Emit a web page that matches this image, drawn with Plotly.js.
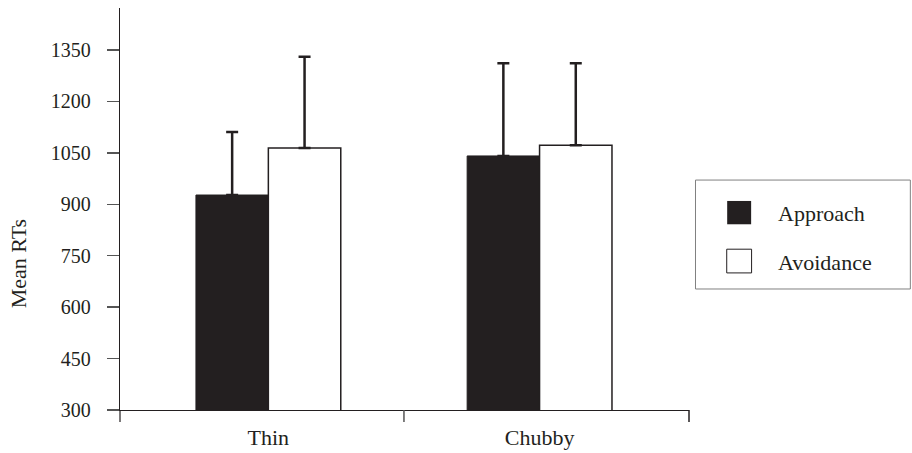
<!DOCTYPE html>
<html>
<head>
<meta charset="utf-8">
<script src="https://cdn.plot.ly/plotly-3.0.1.min.js"></script>
<style>html,body{margin:0;padding:0;background:#fff;}#chart{width:912px;height:453px;}</style>
</head>
<body>
<div id="chart"></div>
<script>
// ---- data ----
const categories = ["Thin", "Chubby"];
const seriesNames = ["Approach", "Avoidance"];
const approachMeans = [927, 1041];
const approachErr = [184, 270];
const avoidanceMeans = [1064, 1072];
const avoidanceErr = [266, 239];
const yTickVals = [300, 450, 600, 750, 900, 1050, 1200, 1350];
const yTickText = ["300", "450", "600", "750", "900", "1050", "1200", "1350"];

const ink = "#231f20";
const serif = "Liberation Serif";

const traces = [
  {
    type: "bar", name: seriesNames[0], x: categories, y: approachMeans,
    marker: {color: ink, line: {color: ink, width: 1}},
    error_y: {type: "data", symmetric: false, array: approachErr, arrayminus: [0, 0],
              color: ink, thickness: 2.5, width: 6},
    showlegend: false
  },
  {
    type: "bar", name: seriesNames[1], x: categories, y: avoidanceMeans,
    marker: {color: "#ffffff", line: {color: ink, width: 1.5}},
    error_y: {type: "data", symmetric: false, array: avoidanceErr, arrayminus: [0, 0],
              color: ink, thickness: 2.5, width: 6},
    showlegend: false
  }
];

const tickLen = 12 / 402;
const layout = {
  width: 912, height: 453,
  margin: {l: 120, r: 222.5, t: 8, b: 43},
  paper_bgcolor: "#ffffff", plot_bgcolor: "#ffffff",
  font: {family: serif, color: ink, size: 22},
  barmode: "group", bargap: 0.466, bargroupgap: 0,
  xaxis: {
    type: "category", range: [-0.547, 1.551],
    showline: true, linecolor: ink, linewidth: 1.2,
    ticks: "", showgrid: false, zeroline: false,
    tickfont: {family: serif, size: 22, color: ink},
    ticklabelstandoff: 7
  },
  yaxis: {
    range: [300, 1472.5], tickvals: yTickVals, ticktext: yTickText,
    showline: true, linecolor: ink, linewidth: 1.2,
    ticks: "outside", ticklen: 12, tickwidth: 1.5, tickcolor: "#555555",
    showgrid: false, zeroline: false,
    tickfont: {family: serif, size: 20, color: ink},
    ticklabelstandoff: 12
  },
  shapes: [
    {type: "line", xref: "paper", yref: "paper", x0: 0, x1: 0, y0: 0, y1: -tickLen,
     line: {color: ink, width: 1.2}},
    {type: "line", xref: "x", yref: "paper", x0: 0.5, x1: 0.5, y0: 0, y1: -tickLen,
     line: {color: "#555555", width: 1.5}},
    {type: "line", xref: "paper", yref: "paper", x0: 1, x1: 1, y0: 0, y1: -tickLen,
     line: {color: ink, width: 1.5}},
    {type: "rect", xref: "paper", yref: "paper", x0: 1.0114, x1: 1.389, y0: 0.301, y1: 0.572,
     line: {color: "#808080", width: 1}, fillcolor: "rgba(0,0,0,0)"},
    {type: "rect", xref: "paper", yref: "paper", x0: 1.0671, x1: 1.1092, y0: 0.462, y1: 0.520,
     line: {color: ink, width: 0}, fillcolor: ink},
    {type: "rect", xref: "paper", yref: "paper", x0: 1.0663, x1: 1.1100, y0: 0.341, y1: 0.400,
     line: {color: ink, width: 1}, fillcolor: "#ffffff"}
  ],
  annotations: [
    {text: "Mean RTs", xref: "paper", yref: "paper", x: -0.179, y: 0.363,
     textangle: -90, showarrow: false, xanchor: "center", yanchor: "middle",
     font: {family: serif, size: 22, color: ink}},
    {text: seriesNames[0], xref: "paper", yref: "paper", x: 1.1537, y: 0.490,
     showarrow: false, xanchor: "left", yanchor: "middle",
     font: {family: serif, size: 22, color: ink}},
    {text: seriesNames[1], xref: "paper", yref: "paper", x: 1.1537, y: 0.368,
     showarrow: false, xanchor: "left", yanchor: "middle",
     font: {family: serif, size: 22, color: ink}}
  ]
};

Plotly.newPlot("chart", traces, layout, {displayModeBar: false, staticPlot: true});
</script>
</body>
</html>
